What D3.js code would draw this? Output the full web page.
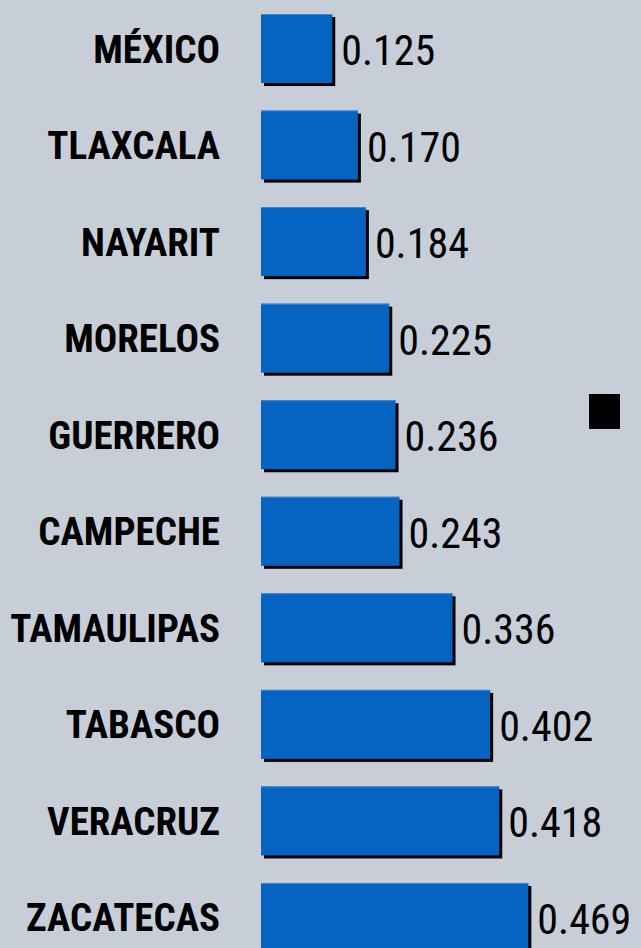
<!DOCTYPE html>
<html>
<head>
<meta charset="utf-8">
<script src="https://cdn.jsdelivr.net/npm/d3@7"></script>
<style>
  html, body { margin: 0; padding: 0; background: #c8ced8; }
  svg { display: block; }
</style>
</head>
<body>
<svg id="chart" width="641" height="948"></svg>
<script>
const categories = ["MÉXICO","TLAXCALA","NAYARIT","MORELOS","GUERRERO","CAMPECHE","TAMAULIPAS","TABASCO","VERACRUZ","ZACATECAS"];
const values = [0.125,0.170,0.184,0.225,0.236,0.243,0.336,0.402,0.418,0.469];
const valueLabels = ["0.125","0.170","0.184","0.225","0.236","0.243","0.336","0.402","0.418","0.469"];

const data = categories.map((c,i)=>({cat:c, v:values[i], lbl:valueLabels[i]}));
const W = 641, H = 948;
const svg = d3.select("#chart");
svg.append("rect").attr("width",W).attr("height",H).attr("fill","#c8ced8");

const x = d3.scaleLinear().domain([0,0.5]).range([261,546]);
const y = d3.scaleBand().domain(categories).range([14,952]).paddingInner(0.285).paddingOuter(0);

const fontFam = "'Liberation Sans Narrow','Roboto Condensed','DejaVu Sans Condensed',sans-serif";

const g = svg.append("g");
// shadows
g.selectAll("rect.shadow").data(data).join("rect")
  .attr("class","shadow")
  .attr("x", x(0)+3).attr("y", d=>y(d.cat)+3)
  .attr("width", d=>x(d.v)-x(0)).attr("height", y.bandwidth())
  .attr("fill","#000");
// bars
g.selectAll("rect.bar").data(data).join("rect")
  .attr("class","bar")
  .attr("x", x(0)).attr("y", d=>y(d.cat))
  .attr("width", d=>x(d.v)-x(0)).attr("height", y.bandwidth())
  .attr("fill","#0563c1");
g.selectAll("line.hl").data(data).join("line")
  .attr("x1", x(0)).attr("x2", d=>x(d.v))
  .attr("y1", d=>y(d.cat)+0.5).attr("y2", d=>y(d.cat)+0.5)
  .attr("stroke","#3d86d4").attr("stroke-width",1);

// category labels
g.selectAll("text.cat").data(data).join("text")
  .attr("class","cat")
  .attr("x", 220).attr("y", d=>y(d.cat)+y.bandwidth()/2+1)
  .attr("text-anchor","end").attr("dominant-baseline","central")
  .attr("font-family", fontFam).attr("font-weight","bold").attr("font-size",39)
  .attr("fill","#000")
  .text(d=>d.cat);

// value labels
g.selectAll("text.val").data(data).join("text")
  .attr("class","val")
  .attr("x", d=>x(d.v)+9).attr("y", d=>y(d.cat)+y.bandwidth()/2+2)
  .attr("dominant-baseline","central")
  .attr("font-family", fontFam).attr("font-size",42)
  .attr("fill","#000")
  .text(d=>d.lbl);

// legend marker
svg.append("rect").attr("x",589).attr("y",394).attr("width",31).attr("height",35).attr("fill","#000");
</script>
</body>
</html>
